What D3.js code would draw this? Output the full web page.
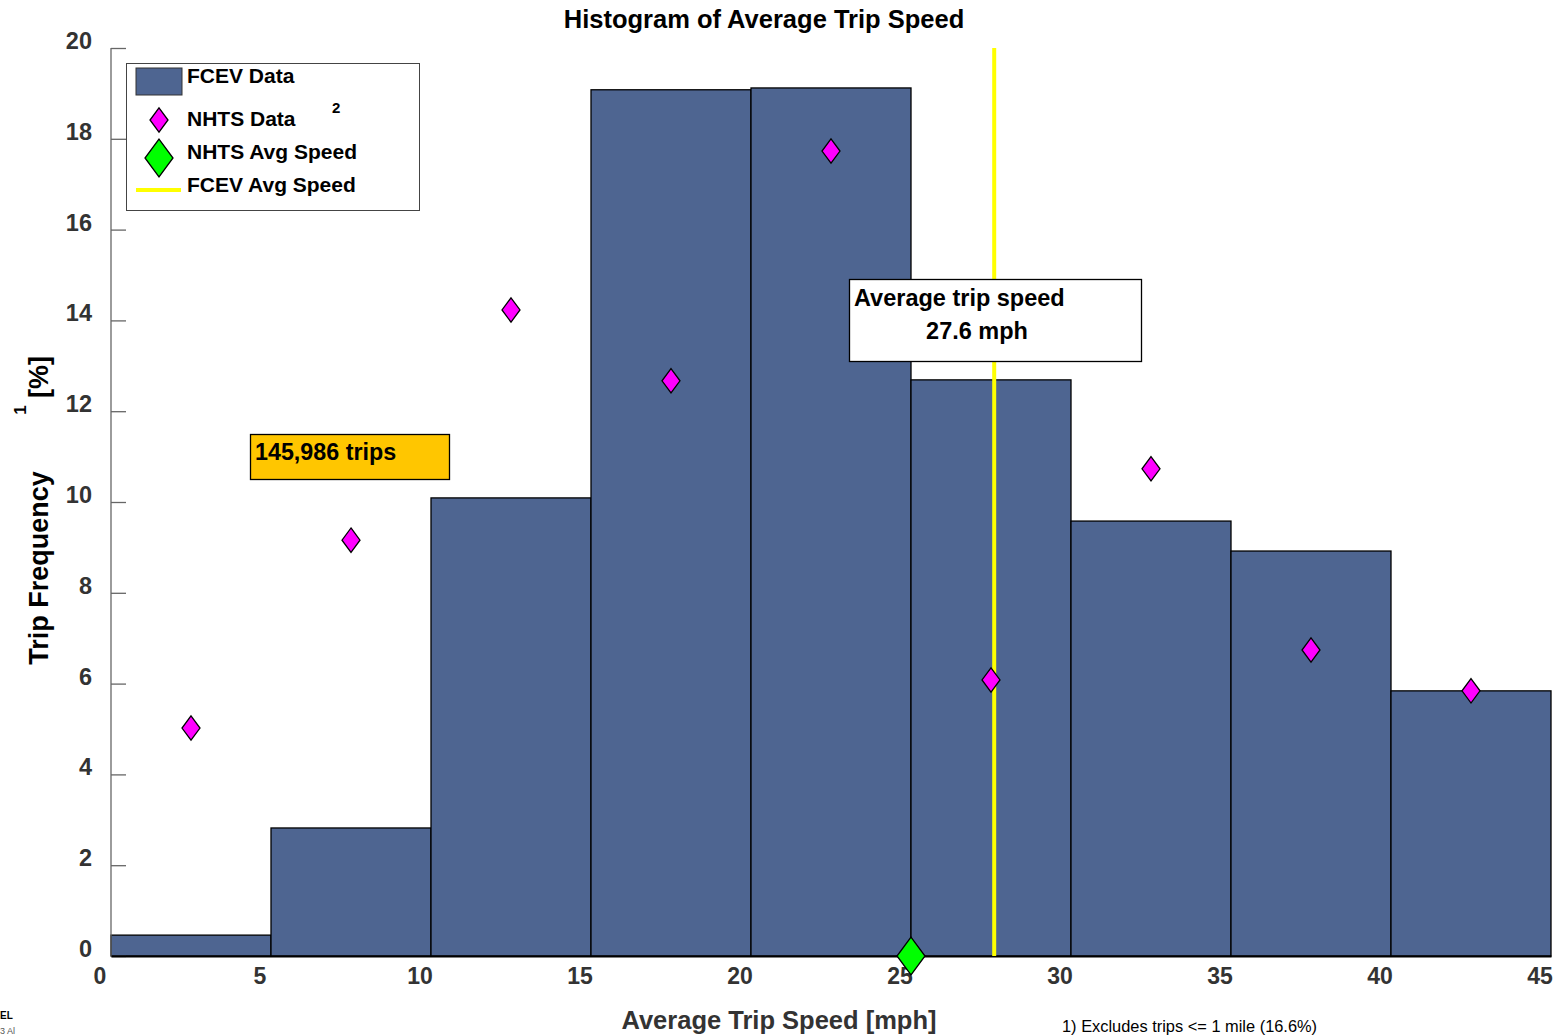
<!DOCTYPE html>
<html>
<head>
<meta charset="utf-8">
<script src="https://cdn.jsdelivr.net/npm/d3@7"></script>
<style>
  html, body { margin: 0; padding: 0; background: #fff; }
  svg { display: block; font-family: "Liberation Sans", Arial, sans-serif; }
</style>
</head>
<body>
<svg id="chart" width="1562" height="1035"></svg>
<script>
// ---- data ----
const binStarts = [0, 5, 10, 15, 20, 25, 30, 35, 40];
const binWidth = 5;
const fcevFreq = [0.46, 2.82, 10.09, 19.08, 19.12, 12.69, 9.58, 8.92, 5.84];
const nhtsSpeed = [2.5, 7.5, 12.5, 17.5, 22.5, 27.5, 32.5, 37.5, 42.5];
const nhtsFreq = [5.02, 9.16, 14.23, 12.67, 17.73, 6.08, 10.73, 6.74, 5.84];
const nhtsAvgSpeed = [25.0];
const fcevAvgSpeed = [27.6];
const xTicks = [0, 5, 10, 15, 20, 25, 30, 35, 40, 45];
const yTicks = [0, 2, 4, 6, 8, 10, 12, 14, 16, 18, 20];

// ---- layout ----
const svg = d3.select("#chart");
const x = d3.scaleLinear().domain([0, 45]).range([111, 1551]);
const y = d3.scaleLinear().domain([0, 20]).range([956, 48]);
const barColor = "#4e6591";

// title
svg.append("text").attr("x", 764).attr("y", 28).attr("text-anchor", "middle")
  .attr("font-size", 25.5).attr("font-weight", "bold").attr("fill", "#000")
  .text("Histogram of Average Trip Speed");

// bars
svg.append("g").selectAll("rect").data(binStarts).join("rect")
  .attr("x", d => x(d))
  .attr("width", x(binWidth) - x(0))
  .attr("y", (d, i) => y(fcevFreq[i]))
  .attr("height", (d, i) => y(0) - y(fcevFreq[i]))
  .attr("fill", barColor).attr("stroke", "#000").attr("stroke-width", 1.3);

// y axis
const yAxis = d3.axisRight(y).tickValues(yTicks).tickSize(15).tickFormat("");
const gy = svg.append("g").attr("transform", "translate(111,0)").call(yAxis);
gy.select(".domain").attr("stroke", "#666").attr("stroke-width", 1.3).attr("d", `M0,${y(20)}V${y(0)}`);
gy.selectAll(".tick line").attr("stroke", "#666").attr("stroke-width", 1.3);
svg.append("g").selectAll("text").data(yTicks).join("text")
  .attr("x", 92).attr("y", d => y(d) + 1).attr("text-anchor", "end")
  .attr("font-size", 23.5).attr("font-weight", "bold").attr("fill", "#333")
  .text(d => d);

// x axis
const xAxis = d3.axisBottom(x).tickValues(xTicks).tickSize(0).tickFormat("");
const gx = svg.append("g").attr("transform", `translate(0,${y(0)})`).call(xAxis);
gx.select(".domain").attr("stroke", "#000").attr("stroke-width", 2);
svg.append("g").selectAll("text").data(xTicks).join("text")
  .attr("x", d => x(d) - 11).attr("y", 984).attr("text-anchor", "middle")
  .attr("font-size", 23).attr("font-weight", "bold").attr("fill", "#333")
  .text(d => d);

// FCEV avg speed line
svg.append("g").selectAll("line").data(fcevAvgSpeed).join("line")
  .attr("x1", d => x(d)).attr("x2", d => x(d))
  .attr("y1", y(20)).attr("y2", y(0))
  .attr("stroke", "#ffff00").attr("stroke-width", 4);

// NHTS diamonds
const diamond = (r) => `M0,${-r * 1.35}L${r},0L0,${r * 1.35}L${-r},0Z`;
svg.append("g").selectAll("path").data(nhtsSpeed).join("path")
  .attr("d", diamond(9))
  .attr("transform", (d, i) => `translate(${x(d)},${y(nhtsFreq[i])})`)
  .attr("fill", "#ff00ff").attr("stroke", "#000").attr("stroke-width", 1.3);

// NHTS avg speed diamond
svg.append("g").selectAll("path").data(nhtsAvgSpeed).join("path")
  .attr("d", diamond(14))
  .attr("transform", d => `translate(${x(d)},${y(0)})`)
  .attr("fill", "#00ff00").attr("stroke", "#000").attr("stroke-width", 1.3);

// annotation box
svg.append("rect").attr("x", 849.5).attr("y", 279.5).attr("width", 292).attr("height", 82)
  .attr("fill", "#fff").attr("stroke", "#000").attr("stroke-width", 1.3);
svg.append("text").attr("x", 854).attr("y", 306).attr("font-size", 23.5).attr("font-weight", "bold")
  .text("Average trip speed");
svg.append("text").attr("x", 977).attr("y", 339).attr("text-anchor", "middle").attr("font-size", 23.5).attr("font-weight", "bold")
  .text("27.6 mph");

// trips box
svg.append("rect").attr("x", 250.5).attr("y", 434.5).attr("width", 199).attr("height", 45)
  .attr("fill", "#ffc600").attr("stroke", "#000").attr("stroke-width", 1.3);
svg.append("text").attr("x", 255).attr("y", 460).attr("font-size", 23.3).attr("font-weight", "bold")
  .text("145,986 trips");

// legend
const lg = svg.append("g");
lg.append("rect").attr("x", 126.5).attr("y", 63.5).attr("width", 293).attr("height", 147)
  .attr("fill", "#fff").attr("stroke", "#444").attr("stroke-width", 1);
lg.append("rect").attr("x", 136).attr("y", 68).attr("width", 46).attr("height", 27)
  .attr("fill", barColor).attr("stroke", "#333").attr("stroke-width", 1);
lg.append("path").attr("d", diamond(9)).attr("transform", "translate(159,120)")
  .attr("fill", "#ff00ff").attr("stroke", "#000").attr("stroke-width", 1.3);
lg.append("path").attr("d", diamond(14)).attr("transform", "translate(159,158)")
  .attr("fill", "#00ff00").attr("stroke", "#000").attr("stroke-width", 1.3);
lg.append("line").attr("x1", 136).attr("x2", 181).attr("y1", 190).attr("y2", 190)
  .attr("stroke", "#ffff00").attr("stroke-width", 4);
const legendLabels = ["FCEV Data", "NHTS Data", "NHTS Avg Speed", "FCEV Avg Speed"];
const legendY = [83, 126, 159, 192];
lg.selectAll("text.lbl").data(legendLabels).join("text").attr("class", "lbl")
  .attr("x", 187).attr("y", (d, i) => legendY[i])
  .attr("font-size", 21).attr("font-weight", "bold").attr("fill", "#000")
  .text(d => d);
lg.append("text").attr("x", 332).attr("y", 113).attr("font-size", 15).attr("font-weight", "bold").text("2");

// y label
const yl = svg.append("g").attr("transform", "translate(48,0) rotate(-90)");
yl.append("text").attr("x", -568).attr("y", 0).attr("text-anchor", "middle")
  .attr("font-size", 27).attr("font-weight", "bold").text("Trip Frequency");
yl.append("text").attr("x", -410).attr("y", -22).attr("text-anchor", "middle")
  .attr("font-size", 17).attr("font-weight", "bold").text("1");
yl.append("text").attr("x", -377).attr("y", 0).attr("text-anchor", "middle")
  .attr("font-size", 27).attr("font-weight", "bold").text("[%]");

// x label
svg.append("text").attr("x", 779).attr("y", 1029).attr("text-anchor", "middle")
  .attr("font-size", 25.5).attr("font-weight", "bold").attr("fill", "#333")
  .text("Average Trip Speed [mph]");

// footnote
svg.append("text").attr("x", 1062).attr("y", 1032).attr("font-size", 16.4).attr("fill", "#000")
  .text("1) Excludes trips <= 1 mile (16.6%)");

// corner text (visible part of a cropped logo)
svg.append("text").attr("x", 0).attr("y", 1019)
  .attr("font-size", 10).attr("font-weight", "bold").text("EL");
svg.append("text").attr("x", 0).attr("y", 1034)
  .attr("font-size", 9).attr("fill", "#555").text("3 Al");
</script>
</body>
</html>
